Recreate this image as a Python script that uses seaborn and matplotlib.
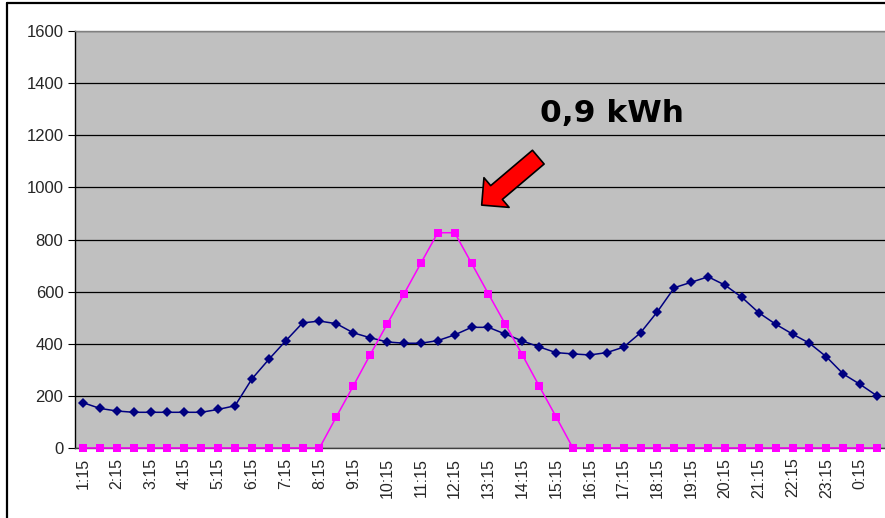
import seaborn as sns
import matplotlib.pyplot as plt
import numpy as np
import pandas as pd
from matplotlib.lines import Line2D

# half-hour readings, 1:15 .. 0:45
times = [f"{(1 + i // 2) % 24}:{15 if i % 2 == 0 else 45}" for i in range(48)]
verbrauch = [174, 152, 142, 137, 137, 137, 137, 137, 148, 162, 265, 340,
             411, 480, 487, 477, 442, 423, 407, 402, 402, 412, 434, 463,
             463, 437, 411, 388, 366, 361, 357, 366, 387, 442, 523, 615,
             636, 657, 625, 578, 519, 475, 437, 402, 350, 284, 244, 200]
pv = [0, 0, 0, 0, 0, 0, 0, 0, 0, 0, 0, 0, 0, 0, 0, 120,
      238, 358, 475, 591, 709, 826, 826, 709, 591, 475, 358, 238,
      120, 0, 0, 0, 0, 0, 0, 0, 0, 0, 0, 0, 0, 0, 0, 0, 0, 0, 0, 0]
y_ticks = [0, 200, 400, 600, 800, 1000, 1200, 1400, 1600]
label = "0,9 kWh"

df = pd.DataFrame({'i': np.arange(len(times)), 'verbrauch': verbrauch, 'pv': pv})

sns.set_style("white")
plt.rcParams['font.family'] = ['Liberation Sans', 'DejaVu Sans']

fig = plt.figure(figsize=(8.85, 5.18), dpi=100)
ax = fig.add_axes([74.5 / 885, 1 - 448 / 518, 811 / 885, 417 / 518])
ax.set_facecolor('#C0C0C0')

sns.lineplot(data=df, x='i', y='verbrauch', ax=ax, color='#000080', lw=1.1,
             marker='D', markersize=5.2, markeredgewidth=0, zorder=4)
sns.lineplot(data=df, x='i', y='pv', ax=ax, color='#FF00FF', lw=1.1,
             marker='s', markersize=5.3, markeredgewidth=0, zorder=5, clip_on=False)

ax.set_xlim(-0.5, len(times) - 0.5)
ax.set_ylim(0, 1600)
ax.set_yticks(y_ticks)
ax.set_yticklabels([str(v) for v in y_ticks], fontsize=12)
ax.yaxis.grid(True, color='black', lw=0.9)
ax.set_axisbelow(True)

ax.set_xticks(np.arange(0, len(times), 2))
ax.set_xticklabels(times[::2], rotation=90, fontsize=11.5)
ax.set_xticks(np.arange(-0.5, len(times), 1), minor=True)
ax.tick_params(axis='x', which='major', length=5, pad=2, color='none')
ax.tick_params(axis='x', which='minor', length=5, width=0.8, color='#333333')
ax.tick_params(axis='y', which='major', length=5, width=0.8, pad=3, color='black', left=True)
ax.set_xlabel('')
ax.set_ylabel('')

for s in ['left', 'bottom']:
    ax.spines[s].set_color('black')
    ax.spines[s].set_linewidth(1.0)
ax.spines['bottom'].set_color('#404040')
ax.spines['top'].set_color('#808080')
ax.spines['top'].set_linewidth(1.0)
ax.spines['right'].set_visible(False)

ax.text(31.3, 1282, label, fontsize=22.5, fontweight='bold', family='DejaVu Sans',
        ha='center', va='center', color='black')
ax.annotate('', xy=(23.6, 932), xytext=(26.95, 1116),
            arrowprops=dict(arrowstyle='simple,head_length=14,head_width=28,tail_width=13',
                            mutation_scale=1, fc='red', ec='black', lw=1.2,
                            shrinkA=0, shrinkB=0), zorder=6)

# outer chart border (cropped at right/bottom)
fig.add_artist(Line2D([7 / 885, 7 / 885], [0, 1 - 3 / 518], color='black', lw=1.6))
fig.add_artist(Line2D([7 / 885, 1], [1 - 3 / 518, 1 - 3 / 518], color='black', lw=1.6))

fig.savefig('out.png', dpi=100)
